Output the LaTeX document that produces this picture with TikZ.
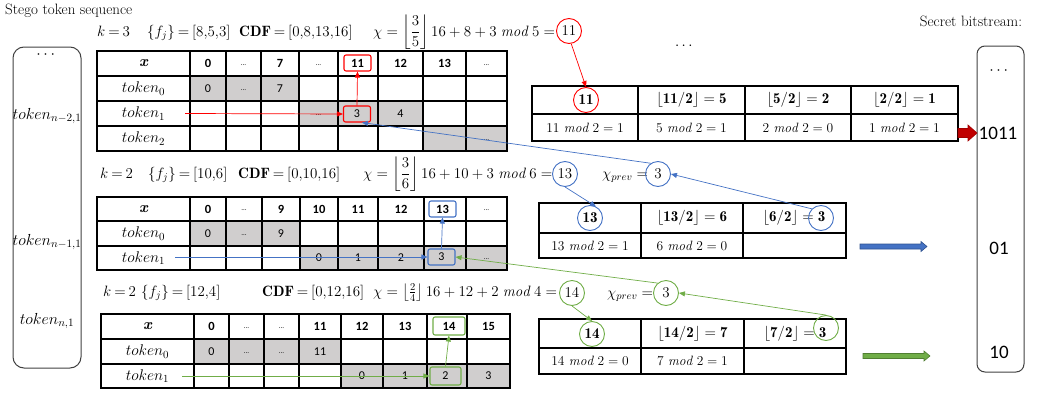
\RequirePackage{fix-cm}
\documentclass[tikz,border=0pt]{standalone}
\usepackage{amsmath}
\usepackage{fontspec}
\usetikzlibrary{arrows.meta,calc}
\newfontfamily\carlito{Carlito}
\newcommand{\bfl}[3]{$\lfloor\mathbf{#1}/\mathbf{#2}\rfloor\mathrel{\mathbf{=}}\mathbf{#3}$}
\newcommand{\tightm}[1]{$\thickmuskip=3.5mu\relax #1$}
\definecolor{cellgray}{RGB}{208,206,206}
\definecolor{myred}{RGB}{255,0,0}
\definecolor{myblue}{RGB}{68,114,196}
\definecolor{mygreen}{RGB}{112,173,71}
\definecolor{darkred}{RGB}{192,0,0}
\definecolor{blueedge}{RGB}{47,82,143}
\definecolor{greenedge}{RGB}{80,126,50}
\begin{document}
\begin{tikzpicture}[x=1pt,y=-1pt,
  tabline/.style={line width=1.7pt, black},
  cellnum/.style={font=\carlito\fontsize{12}{14}\selectfont, inner sep=0pt},
  hnum/.style={font=\carlito\bfseries\fontsize{12.5}{14}\selectfont, inner sep=0pt},
  tdots/.style={font=\carlito\fontsize{7}{8}\selectfont, inner sep=0pt},
  toktxt/.style={font=\fontsize{15.5}{18}\selectfont, inner sep=0pt},
  sidetxt/.style={font=\fontsize{16}{18}\selectfont, inner sep=0pt},
  mtxt/.style={font=\fontsize{13.5}{16}\selectfont, inner sep=0pt},
  htxt/.style={font=\fontsize{15}{17}\selectfont, inner sep=0pt},
  eqtxt/.style={font=\fontsize{15}{17}\selectfont, inner sep=0pt, anchor=base west},
  selbox/.style={draw, rounded corners=2pt, line width=1.1pt, minimum width=27pt, minimum height=16pt, inner sep=0pt},
  ringnode/.style={circle, draw, line width=0.9pt, minimum size=25pt, inner sep=0pt},
  linkarrow/.style={line width=0.7pt, -{Triangle[length=6pt,width=5pt]}},
  sidebox/.style={draw=black!75, line width=1pt, rounded corners=11pt},
  bigtxt/.style={font=\fontsize{15}{17}\selectfont, inner sep=0pt},
  bits/.style={font=\carlito\fontsize{19}{22}\selectfont, inner sep=0pt},
]
\useasboundingbox (0,0) rectangle (1037,394);

% ---------- titles ----------
\node[bigtxt, anchor=base west] (title) at (5,14) {Stego token sequence};
\node[bigtxt] (secret) at (971,21) {Secret bitstream:};
\node[bigtxt] (middots) at (685,46) {$\cdots$};

% ---------- left box ----------
\draw[sidebox] (13,47) rectangle (81,368);
\node[sidetxt] (ldots) at (47,55) {$\cdots$};
\node[sidetxt] (lt1) at (47,116) {$token_{n-2,1}$};
\node[sidetxt] (lt2) at (47,242) {$token_{n-1,1}$};
\node[sidetxt] (lt3) at (47,321) {$token_{n,1}$};

% ---------- right bitstream box ----------
\draw[sidebox, rounded corners=8pt] (977,46) rectangle (1024,372);
\node[sidetxt] (rdots) at (1000,71) {$\cdots$};
\node[bits] (b1011) at (998,133) {1011};
\node[bits] (b01) at (999,248) {01};
\node[bits] (b10) at (999,352) {10};

% ---------- equation lines ----------
\node[eqtxt] (k1) at (97,36) {\tightm{k=3}};
\node[eqtxt] (f1) at (147,36) {\tightm{\{f_j\}=[8{,}5{,}3]}};
\node[eqtxt] (cdf1) at (239,36) {\tightm{\mathbf{CDF}=[0{,}8{,}13{,}16]}};
\node[eqtxt] (chi1) at (373,36) {$\chi=\left\lfloor\dfrac{3}{5}\right\rfloor 16+8+3\;\mathit{mod}\;5=$};
\node[ringnode, draw=myred, htxt] (c11a) at (569,31) {$11$};

\node[eqtxt] (k2) at (100,178) {\tightm{k=2}};
\node[eqtxt] (f2) at (148,178) {\tightm{\{f_j\}=[10{,}6]}};
\node[eqtxt] (cdf2) at (238,178) {\tightm{\mathbf{CDF}=[0{,}10{,}16]}};
\node[eqtxt] (chi2) at (363,178) {$\chi=\left\lfloor\dfrac{3}{6}\right\rfloor 16+10+3\;\mathit{mod}\;6=$};
\node[ringnode, draw=myblue, htxt] (c13a) at (565,174) {$13$};
\node[eqtxt] (p2) at (602,178) {$\chi_{prev}=$};
\node[ringnode, draw=myblue, htxt] (cp2) at (658,174) {$3$};

\node[eqtxt] (k3) at (103,296) {\tightm{k=2}};
\node[eqtxt] (f3) at (141,296) {\tightm{\{f_j\}=[12{,}4]}};
\node[eqtxt] (cdf3) at (262,296) {\tightm{\mathbf{CDF}=[0{,}12{,}16]}};
\node[eqtxt] (chi3) at (373,296) {$\chi=\left\lfloor\tfrac{2}{4}\right\rfloor 16+12+2\;\mathit{mod}\;4=$};
\node[ringnode, draw=mygreen, htxt] (c14a) at (572,293) {$14$};
\node[eqtxt] (p3) at (607,297) {$\chi_{prev}=$};
\node[ringnode, draw=mygreen, htxt] (cp3) at (666,293) {$3$};

% ---------- table 1 ----------
\fill[cellgray] (190,76) rectangle (299,101);
\fill[cellgray] (299,101) rectangle (423,126);
\fill[cellgray] (423,126) rectangle (507,151);
\foreach \yy in {76,101,126} \draw[tabline] (97,\yy) -- (507,\yy);
\foreach \xx in {190,226,261,299,338,378,423,466} \draw[tabline] (\xx,51) -- (\xx,151);
\draw[tabline] (97,51) rectangle (507,151);
\node[toktxt] (a-xh) at (143.5,63.5) {\bfseries\itshape x};
\foreach \cx/\tt [count=\i] in {208/0, 280/7, 400.5/12, 444.5/13} \node[hnum] (a-h\i) at (\cx,63.5) {\tt};
\foreach \cx [count=\i] in {243.5,318.5,486.5} \node[tdots] (a-hd\i) at (\cx,65) {…};
\node[hnum, selbox, draw=myred] (a-11) at (357.5,63) {11};
\node[toktxt] (a-t0) at (143.5,88.5) {$token_0$};
\node[cellnum] (a-00) at (208,88.5) {0};
\node[tdots] (a-0d) at (243.5,90) {…};
\node[cellnum] (a-07) at (280,88.5) {7};
\node[toktxt] (a-t1) at (143.5,113.5) {$token_1$};
\node[tdots] (a-1d) at (318.5,115) {…};
\node[cellnum, selbox, draw=myred] (a-3) at (357,114) {3};
\node[cellnum] (a-14) at (400.5,113.5) {4};
\node[toktxt] (a-t2) at (143.5,138.5) {$token_2$};
\node[tdots] (a-2d) at (486.5,140) {…};

% ---------- table 2 ----------
\fill[cellgray] (190,221) rectangle (300,246);
\fill[cellgray] (300,246) rectangle (507,270);
\foreach \yy in {221,246} \draw[tabline] (97,\yy) -- (507,\yy);
\foreach \xx in {190,226,262,300,338,378,424,466} \draw[tabline] (\xx,197) -- (\xx,270);
\draw[tabline] (97,197) rectangle (507,270);
\node[toktxt] (b-xh) at (143.5,209) {\bfseries\itshape x};
\foreach \cx/\tt [count=\i] in {208/0, 281/9, 319/10, 358/11, 401/12} \node[hnum] (b-h\i) at (\cx,209) {\tt};
\foreach \cx [count=\i] in {244,486.5} \node[tdots] (b-hd\i) at (\cx,210.5) {…};
\node[hnum, selbox, draw=myblue] (b-13) at (442.5,209) {13};
\node[toktxt] (b-t0) at (143.5,233.5) {$token_0$};
\node[cellnum] (b-00) at (208,233.5) {0};
\node[tdots] (b-0d) at (244,235) {…};
\node[cellnum] (b-09) at (281,233.5) {9};
\node[toktxt] (b-t1) at (143.5,258) {$token_1$};
\node[cellnum] (b-10) at (319,258) {0};
\node[cellnum] (b-11) at (358,258) {1};
\node[cellnum] (b-12) at (401,258) {2};
\node[cellnum, selbox, draw=myblue] (b-3) at (441.5,257) {3};
\node[tdots] (b-1d) at (486.5,259.5) {…};

% ---------- table 3 ----------
\fill[cellgray] (194,339) rectangle (341,364);
\fill[cellgray] (341,364) rectangle (510,388);
\foreach \yy in {339,364} \draw[tabline] (101,\yy) -- (510,\yy);
\foreach \xx in {194,229,264,299,341,383,427,467} \draw[tabline] (\xx,314) -- (\xx,388);
\draw[tabline] (101,314) rectangle (510,388);
\node[toktxt] (c-xh) at (147.5,326.5) {\bfseries\itshape x};
\foreach \cx/\tt [count=\i] in {211.5/0, 320/11, 362/12, 405/13, 488.5/15} \node[hnum] (c-h\i) at (\cx,326.5) {\tt};
\foreach \cx [count=\i] in {246.5,281.5} \node[tdots] (c-hd\i) at (\cx,328) {…};
\node[hnum, selbox, draw=mygreen, minimum width=32pt, minimum height=18pt] (c-14) at (449,326) {14};
\node[toktxt] (c-t0) at (147.5,351.5) {$token_0$};
\node[cellnum] (c-00) at (211.5,351.5) {0};
\node[tdots] (c-0d1) at (246.5,353) {…};
\node[tdots] (c-0d2) at (281.5,353) {…};
\node[cellnum] (c-011) at (320,351.5) {11};
\node[toktxt] (c-t1) at (147.5,376) {$token_1$};
\node[cellnum] (c-10) at (362,376) {0};
\node[cellnum] (c-11) at (405,376) {1};
\node[cellnum, selbox, draw=mygreen, minimum width=31pt, minimum height=18pt] (c-2) at (445.5,376) {2};
\node[cellnum] (c-13) at (488.5,376) {3};

% ---------- right table 1 ----------
\draw[tabline] (532,86) rectangle (958,141);
\draw[tabline] (532,114) -- (958,114);
\foreach \xx in {638,745,851} \draw[tabline] (\xx,86) -- (\xx,141);
\node[ringnode, draw=myred, htxt] (c11b) at (586,100) {$\mathbf{11}$};
\node[htxt] (r1h2) at (691.5,100) {\bfl{11}{2}{5}};
\node[htxt] (r1h3) at (798,100) {\bfl{5}{2}{2}};
\node[htxt] (r1h4) at (904.5,100) {\bfl{2}{2}{1}};
\node[mtxt] (r1b1) at (585,127.5) {$11\ \mathit{mod}\ 2=1$};
\node[mtxt] (r1b2) at (691.5,127.5) {$5\ \mathit{mod}\ 2=1$};
\node[mtxt] (r1b3) at (798,127.5) {$2\ \mathit{mod}\ 2=0$};
\node[mtxt] (r1b4) at (904.5,127.5) {$1\ \mathit{mod}\ 2=1$};

% ---------- right table 2 ----------
\draw[tabline] (539,203) rectangle (846,258);
\draw[tabline] (539,233) -- (846,233);
\foreach \xx in {641,743} \draw[tabline] (\xx,203) -- (\xx,258);
\node[ringnode, draw=myblue, htxt] (c13b) at (590,218) {$\mathbf{13}$};
\node[htxt] (r2h2) at (692,218) {\bfl{13}{2}{6}};
\node[htxt] (r2h3) at (794,218) {\bfl{6}{2}{3}};
\node[ringnode, draw=myblue] (c3r2) at (821,218) {};
\node[mtxt] (r2b1) at (590,245.5) {$13\ \mathit{mod}\ 2=1$};
\node[mtxt] (r2b2) at (692,245.5) {$6\ \mathit{mod}\ 2=0$};

% ---------- right table 3 ----------
\draw[tabline] (539,319) rectangle (846,374);
\draw[tabline] (539,348) -- (846,348);
\foreach \xx in {641,744} \draw[tabline] (\xx,319) -- (\xx,374);
\node[ringnode, draw=mygreen, htxt] (c14b) at (592,334) {$\mathbf{14}$};
\node[htxt] (r3h2) at (692.5,333.5) {\bfl{14}{2}{7}};
\node[htxt] (r3h3) at (795,333.5) {\bfl{7}{2}{3}};
\node[ringnode, draw=mygreen] (c3r3) at (826,328) {};
\node[mtxt] (r3b1) at (590,361) {$14\ \mathit{mod}\ 2=0$};
\node[mtxt] (r3b2) at (692.5,361) {$7\ \mathit{mod}\ 2=1$};

% ---------- connectors ----------
\coordinate (rs) at (185,113.5);
\draw[linkarrow, myred] (rs) -- (a-3.west);
\draw[linkarrow, myred] (a-3.north) -- (a-11.south);
\draw[linkarrow, myred] (c11a.-80) -- (c11b.north);

\coordinate (bs) at (175,257);
\draw[linkarrow, myblue] (bs) -- (b-3.west);
\draw[linkarrow, myblue] (b-3.north) -- (b-13.south);
\draw[linkarrow, myblue] (c13a.south) -- (c13b.63);
\draw[linkarrow, myblue] (c3r2.135) -- (cp2.east);
\draw[linkarrow, myblue] (cp2.124) -- (a-3.-60);

\coordinate (gs) at (182,376);
\draw[linkarrow, mygreen] (gs) -- (c-2.west);
\draw[linkarrow, mygreen] (c-2.north) -- (c-14.south);
\draw[linkarrow, mygreen] (c14a.south) -- (c14b.north);
\draw[linkarrow, mygreen] (c3r3.north) -- (cp3.east);
\draw[linkarrow, mygreen] (cp3.130) -- (b-3.east);

% ---------- block arrows ----------
\filldraw[fill=darkred, draw=darkred!85!black, line width=0.6pt]
  (958,128.5) -- (968,128.5) -- (968,125) -- (977,133) -- (968,141) -- (968,137.5) -- (958,137.5) -- cycle;
\filldraw[fill=myblue, draw=blueedge, line width=0.6pt]
  (860,244) -- (921,244) -- (921,241.5) -- (927,246.5) -- (921,251.5) -- (921,249) -- (860,249) -- cycle;
\filldraw[fill=mygreen, draw=greenedge, line width=0.6pt]
  (863,353.5) -- (924,353.5) -- (924,351) -- (930,356) -- (924,361) -- (924,358.5) -- (863,358.5) -- cycle;
\end{tikzpicture}
\end{document}
